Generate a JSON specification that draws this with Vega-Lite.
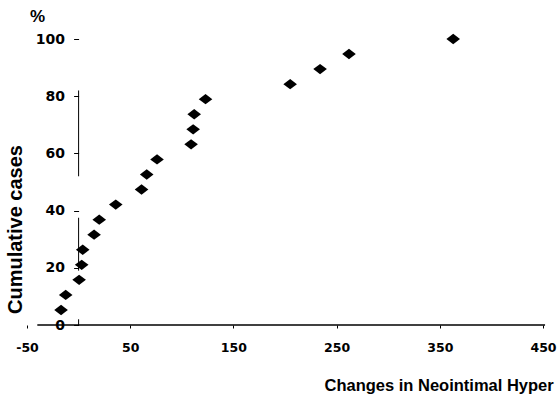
{
  "$schema": "https://vega.github.io/schema/vega-lite/v6.json",
  "width": 516,
  "height": 286,
  "autosize": {"type": "none"},
  "padding": {"left": 27, "top": 39, "right": 14, "bottom": 81},
  "background": "white",
  "config": {"view": {"stroke": null}},
  "title": {
    "text": "%",
    "anchor": "start",
    "frame": "group",
    "dx": 3,
    "offset": 6,
    "font": "Liberation Sans",
    "fontSize": 17,
    "fontWeight": "bold",
    "color": "black"
  },
  "datasets": {
    "cases": [
      {"change": -17, "cum": 5.26},
      {"change": -12.5, "cum": 10.53},
      {"change": 0.5, "cum": 15.79},
      {"change": 3, "cum": 21.05},
      {"change": 4, "cum": 26.32},
      {"change": 15, "cum": 31.58},
      {"change": 20, "cum": 36.84},
      {"change": 36, "cum": 42.11},
      {"change": 61, "cum": 47.37},
      {"change": 66, "cum": 52.63},
      {"change": 76, "cum": 57.89},
      {"change": 109, "cum": 63.16},
      {"change": 111, "cum": 68.42},
      {"change": 112, "cum": 73.68},
      {"change": 123, "cum": 78.95},
      {"change": 205, "cum": 84.21},
      {"change": 234, "cum": 89.47},
      {"change": 262, "cum": 94.74},
      {"change": 363, "cum": 100}
    ],
    "yAxisLine": [
      {"y": 82, "y2": 52},
      {"y": 37.5, "y2": 19},
      {"y": 2, "y2": 0}
    ],
    "xAxisLine": [
      {"x": -40, "x2": 452}
    ]
  },
  "layer": [
    {
      "data": {"name": "cases"},
      "mark": {
        "type": "point",
        "shape": "M-1,0L0,-0.76L1,0L0,0.76Z",
        "filled": true,
        "color": "black",
        "opacity": 1,
        "size": 185,
        "strokeWidth": 0
      },
      "encoding": {
        "x": {
          "field": "change",
          "type": "quantitative",
          "scale": {"domain": [-50, 450], "nice": false, "zero": false},
          "axis": {
            "values": [-50, 50, 150, 250, 350, 450],
            "labelExpr": "datum.value + ''",
            "grid": false,
            "domain": false,
            "ticks": true,
            "tickSize": 3,
            "tickColor": "black",
            "labelPadding": 13,
            "labelFlush": false,
            "labelOverlap": false,
            "labelFont": "DejaVu Sans",
            "labelFontSize": 12.5,
            "labelFontWeight": "bold",
            "labelColor": "black",
            "title": "Changes in Neointimal Hyper",
            "titleFont": "Liberation Sans",
            "titleFontSize": 16.5,
            "titleFontWeight": "bold",
            "titleColor": "black",
            "titleAlign": "left",
            "titleAnchor": "start",
            "titleBaseline": "alphabetic",
            "titleX": 297,
            "titleY": 65
          }
        },
        "y": {
          "field": "cum",
          "type": "quantitative",
          "scale": {"domain": [0, 100], "nice": false},
          "axis": {
            "values": [0, 20, 40, 60, 80, 100],
            "offset": -51.6,
            "grid": false,
            "domain": false,
            "ticks": true,
            "tickSize": 5,
            "tickColor": "black",
            "labelPadding": 9,
            "labelFlush": false,
            "labelOverlap": false,
            "labelFont": "DejaVu Sans",
            "labelFontSize": 14,
            "labelFontWeight": "bold",
            "labelColor": "black",
            "title": "Cumulative cases",
            "titleFont": "Liberation Sans",
            "titleFontSize": 20,
            "titleFontWeight": "bold",
            "titleColor": "black",
            "titleAngle": 270,
            "titleAlign": "center",
            "titleBaseline": "middle",
            "titleX": -63,
            "titleY": 190
          }
        }
      }
    },
    {
      "data": {"name": "yAxisLine"},
      "mark": {"type": "rule", "color": "black", "strokeWidth": 1},
      "encoding": {
        "x": {"datum": 0, "type": "quantitative"},
        "y": {"field": "y", "type": "quantitative"},
        "y2": {"field": "y2"}
      }
    },
    {
      "data": {"name": "xAxisLine"},
      "mark": {"type": "rule", "color": "black", "strokeWidth": 1.5},
      "encoding": {
        "x": {"field": "x", "type": "quantitative"},
        "x2": {"field": "x2"},
        "y": {"datum": 0, "type": "quantitative"}
      }
    }
  ]
}
